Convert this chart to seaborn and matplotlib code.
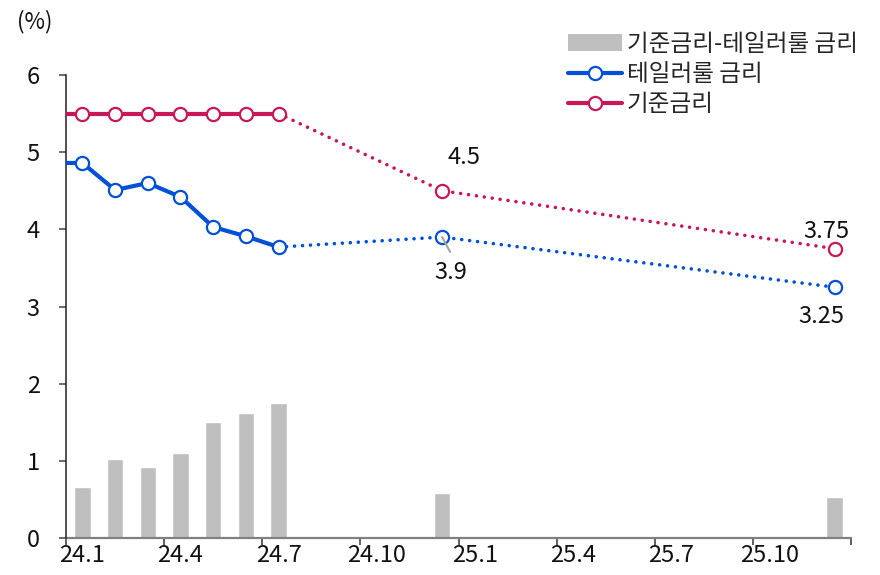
import matplotlib
matplotlib.use("Agg")
import matplotlib.pyplot as plt
import numpy as np
import pandas as pd
import seaborn as sns
from matplotlib.lines import Line2D
from matplotlib.patches import Patch

# Monthly axis: 24 months from 24.1 to 25.12
months = [f"24.{m}" for m in range(1, 13)] + [f"25.{m}" for m in range(1, 13)]
tick_labels = ["24.1", "24.4", "24.7", "24.10", "25.1", "25.4", "25.7", "25.10"]

# Rates (%): actual through 24.7, projections at 24.12 and 25.12
rate_periods = ["23.12", "24.1", "24.2", "24.3", "24.4", "24.5", "24.6", "24.7", "24.12", "25.12"]
taylor_rate = [4.86, 4.86, 4.51, 4.60, 4.42, 4.03, 3.91, 3.77, 3.9, 3.25]
policy_rate = [5.5, 5.5, 5.5, 5.5, 5.5, 5.5, 5.5, 5.5, 4.5, 3.75]
n_actual = 8

# Policy rate minus Taylor-rule rate
gap_periods = ["24.1", "24.2", "24.3", "24.4", "24.5", "24.6", "24.7", "24.12", "25.12"]
rate_gap = [0.66, 1.02, 0.92, 1.10, 1.50, 1.62, 1.75, 0.58, 0.53]

BLUE = "#0050d8"
RED = "#c8175a"
GRAY = "#bfbfbf"
TXT = "#111111"

sns.set_style("ticks")
plt.rcParams["font.family"] = ["Noto Sans CJK KR", "DejaVu Sans"]
plt.rcParams["axes.unicode_minus"] = False

pos = {p: i for i, p in enumerate(months)}
pos["23.12"] = -1
x_rate = np.array([pos[p] for p in rate_periods])

fig = plt.figure(figsize=(8.8, 5.75), dpi=100)
ax = fig.add_axes([66 / 880, 1 - 538 / 575, (851 - 66) / 880, (538 - 75) / 575])

gap_df = pd.DataFrame({"period": gap_periods, "gap": rate_gap})
sns.barplot(data=gap_df, x="period", y="gap", order=months, color=GRAY,
            saturation=1, width=0.5, ax=ax, zorder=1)

rates = pd.DataFrame({"x": x_rate, "taylor": taylor_rate, "policy": policy_rate})
act = rates.iloc[:n_actual]
proj = rates.iloc[n_actual - 1:]

dot_style = (0, (0.01, 2.2))
for col, c in (("taylor", BLUE), ("policy", RED)):
    sns.lineplot(data=act, x="x", y=col, color=c, lw=3.0, ax=ax, zorder=3,
                 sort=False, solid_capstyle="butt")
    sns.lineplot(data=proj, x="x", y=col, color=c, lw=2.6, ax=ax, zorder=3,
                 sort=False, linestyle=dot_style, dash_capstyle="round")
    shown = rates[rates["x"] >= 0]
    ax.plot(shown["x"], shown[col], ls="none", marker="o", ms=9.5, mfc="white",
            mec=c, mew=1.6, zorder=4)

# Value labels
lab_kw = dict(textcoords="offset points", ha="center", va="center", fontsize=17, color=TXT)
ax.annotate(f"{policy_rate[8]:g}", xy=(x_rate[8], policy_rate[8]), xytext=(15.6, 24.3), **lab_kw)
ax.annotate(f"{taylor_rate[8]:g}", xy=(x_rate[8], taylor_rate[8]), xytext=(6.0, -25.2), **lab_kw)
ax.annotate("", xy=(x_rate[8], taylor_rate[8]), xytext=(5.8, -10.8), textcoords="offset points",
            arrowprops=dict(arrowstyle="-", color="#a6a6a6", lw=1.5, shrinkA=0, shrinkB=0),
            zorder=5)
ax.annotate(f"{policy_rate[9]:g}", xy=(x_rate[9], policy_rate[9]), xytext=(-5.8, 12.5), **lab_kw)
ax.annotate(f"{taylor_rate[9]:g}", xy=(x_rate[9], taylor_rate[9]), xytext=(-9.4, -21.2), **lab_kw)

# Axes
ax.set_xlim(-0.5, 23.5)
ax.set_ylim(0, 6)
ax.set_yticks(range(0, 7))
ax.set_yticklabels([str(v) for v in range(0, 7)])
ax.set_xticks([months.index(t) for t in tick_labels])
ax.set_xticklabels(tick_labels)
ax.set_xticks(np.arange(-0.5, 24, 3), minor=True)
ax.tick_params(axis="x", which="major", length=0, pad=4, labelsize=17, colors=TXT)
ax.tick_params(axis="x", which="minor", length=5, width=1.1, color="#333333", direction="out")
ax.tick_params(axis="y", which="major", length=5, width=1.1, color="#444444", pad=14,
               labelsize=17, labelcolor=TXT)
ax.set_xlabel("")
ax.set_ylabel("")
for s in ("top", "right"):
    ax.spines[s].set_visible(False)
ax.spines["left"].set_color("#222222")
ax.spines["left"].set_linewidth(1.1)
ax.spines["bottom"].set_color("#808080")
ax.spines["bottom"].set_linewidth(1.6)
ax.spines["bottom"].set_zorder(2)

fig.text(35 / 880, 1 - 22 / 575, "(%)", ha="center", va="center", fontsize=16, color=TXT)

handles = [
    Patch(facecolor=GRAY, edgecolor="none", label="기준금리-테일러룰 금리"),
    Line2D([], [], color=BLUE, lw=3, marker="o", ms=9.5, mfc="white", mec=BLUE, mew=1.6,
           label="테일러룰 금리"),
    Line2D([], [], color=RED, lw=3, marker="o", ms=9.5, mfc="white", mec=RED, mew=1.6,
           label="기준금리"),
]
ax.legend(handles=handles, loc="upper left", bbox_to_anchor=(568 / 880, 1 - 33 / 575),
          bbox_transform=fig.transFigure, frameon=False, fontsize=17, handlelength=2.3,
          handletextpad=0.2, labelspacing=0.3, borderpad=0, borderaxespad=0)

fig.savefig("out.png", dpi=100)
